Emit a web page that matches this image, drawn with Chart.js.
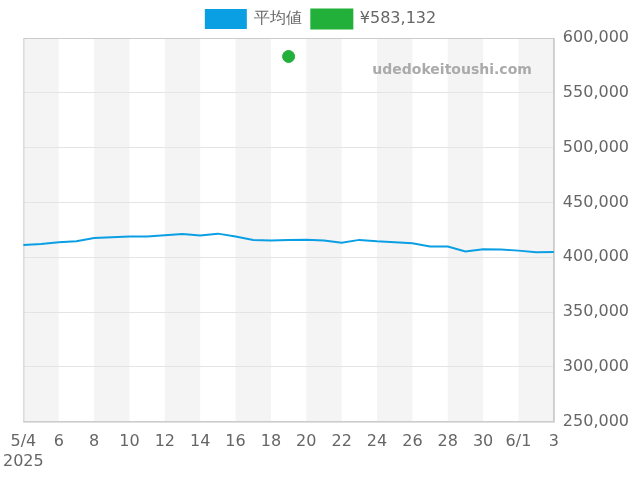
<!DOCTYPE html>
<html><head><meta charset="utf-8">
<script src="https://cdn.jsdelivr.net/npm/chart.js"></script>
<style>body{margin:0;background:#fff}#wrap{width:640px;height:480px}</style>
</head><body><div id="wrap"><canvas id="c"></canvas></div>
<script>
// dias de 5/4 a 6/3
const dias = ['5/4','5','6','7','8','9','10','11','12','13','14','15','16','17','18','19','20','21','22','23','24','25','26','27','28','29','30','31','6/1','2','3'];
const media = [411200,412100,413600,414500,417600,418200,418800,418800,420000,421200,419700,421500,418800,415800,415200,415800,416000,415200,413300,415800,414500,413600,412700,409700,409700,405200,407300,407000,406000,404500,404800];
const ponto = dias.map((d, i) => i === 15 ? 583132 : null);

const faixas = {
  id: 'faixas',
  beforeDraw(chart) {
    const { ctx, chartArea: a, scales: { x } } = chart;
    ctx.save();
    ctx.fillStyle = '#f4f4f4';
    for (let i = 0; i < dias.length - 1; i += 4) {
      const x0 = x.getPixelForValue(i), x1 = x.getPixelForValue(Math.min(i + 2, dias.length - 1));
      ctx.fillRect(x0, a.top, x1 - x0, a.bottom - a.top);
    }
    ctx.restore();
  },
  beforeDatasetsDraw(chart) {
    const { ctx, chartArea: a } = chart;
    ctx.save();
    ctx.strokeStyle = '#cccccc';
    ctx.lineWidth = 1;
    ctx.strokeRect(a.left + 0.5, a.top + 0.5, a.right - a.left, a.bottom - a.top);
    ctx.font = 'bold 14px "DejaVu Sans"';
    ctx.fillStyle = '#aaaaaa';
    ctx.textAlign = 'right';
    ctx.fillText('udedokeitoushi.com', a.right - 22, a.top + 32);
    ctx.restore();
  }
};

new Chart(document.getElementById('c'), {
  type: 'line',
  data: {
    labels: dias,
    datasets: [
      { label: '平均値', data: media, borderColor: '#0a9fe3', backgroundColor: '#0a9fe3', borderWidth: 2, pointRadius: 0, tension: 0 },
      { label: '¥583,132', data: ponto, borderColor: '#22b03a', backgroundColor: '#22b03a', pointRadius: 6, showLine: false }
    ]
  },
  options: {
    responsive: true, maintainAspectRatio: false, animation: false,
    layout: { padding: { left: 4, right: 2, top: 0, bottom: 6 } },
    plugins: {
      legend: { labels: { boxWidth: 40, boxHeight: 18, font: { size: 16, family: 'DejaVu Sans' }, color: '#666' } },
      tooltip: { enabled: false }
    },
    scales: {
      x: {
        offset: false,
        grid: { display: false },
        border: { color: '#ccc' },
        ticks: {
          autoSkip: false, maxRotation: 0, color: '#666', font: { size: 16, family: 'DejaVu Sans' },
          callback: (v, i) => i % 2 ? null : (i === 0 ? ['5/4', '2025'] : dias[i])
        }
      },
      y: {
        position: 'right', min: 250000, max: 600000,
        border: { color: '#ccc' },
        grid: { color: '#e4e4e4', drawTicks: false },
        ticks: { padding: 9, stepSize: 50000, color: '#666', font: { size: 16, family: 'DejaVu Sans' }, callback: v => v.toLocaleString('en-US') }
      }
    }
  },
  plugins: [faixas]
});
</script></body></html>
